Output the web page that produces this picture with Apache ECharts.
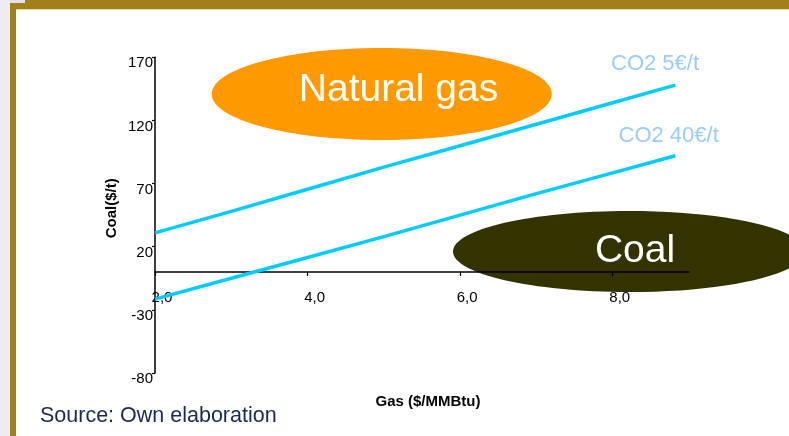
<!DOCTYPE html>
<html>
<head>
<meta charset="utf-8">
<script src="https://cdn.jsdelivr.net/npm/echarts@6/dist/echarts.min.js"></script>
<style>
  html, body { margin:0; padding:0; width:789px; height:436px; overflow:hidden; background:#EDEDF1; }
  #frame { position:absolute; left:10px; top:0; width:779px; height:436px; background:#A17F1B; }
  #notch { position:absolute; left:10px; top:0; width:15px; height:3px; background:#E4E2E4; }
  #inner { position:absolute; left:16px; top:9px; width:773px; height:427px; background:#FFFFFF; border-top:1px solid #E6D6A2; box-sizing:border-box; }
  #chart { position:absolute; left:0; top:0; width:789px; height:436px; }
</style>
</head>
<body>
<div id="frame"></div>
<div id="notch"></div>
<div id="inner"></div>
<div id="chart"></div>
<script>
// ---- data ----
const gasPrices = [2, 3, 4, 5, 6, 7, 8, 8.82];
const co2Low  = [31, 48, 65.5, 83, 100, 117, 134, 148];      // CO2 5€/t
const co2High = [-21.5, -5, 11.5, 28, 45, 62, 78.5, 92];      // CO2 40€/t
const seriesNames = ['CO2 5€/t', 'CO2 40€/t'];
const xTickValues = [2, 4, 6, 8];
const yMin = -80, yMax = 170, yStep = 50;
const xMin = 2, xMax = 9;
const regionLabels = ['Natural gas', 'Coal'];
const xAxisTitle = 'Gas ($/MMBtu)';
const yAxisTitle = 'Coal($/t)';
const sourceText = 'Source: Own elaboration';

const FONT = "'Liberation Sans', Arial, sans-serif";
const chart = echarts.init(document.getElementById('chart'), null, { renderer: 'canvas' });

const gridTop = 57.3, gridBottom = 63;
const plotH = 436 - gridTop - gridBottom;
// place the x axis (line, ticks, labels) at y = 0
const zeroOffset = -(plotH * (0 - yMin) / (yMax - yMin));

const option = {
  backgroundColor: 'transparent',
  animation: false,
  grid: { left: 155, right: 100, top: gridTop, bottom: gridBottom, containLabel: false },
  xAxis: {
    type: 'value', min: xMin, max: xMax, interval: 2, z: 5,
    offset: zeroOffset,
    axisLine: { show: true, onZero: false, lineStyle: { color: '#000', width: 1.5 } },
    axisTick: { show: true, length: 4, customValues: xTickValues, lineStyle: { color: '#000', width: 1.2 } },
    axisLabel: {
      customValues: xTickValues, margin: 18, fontSize: 15, color: '#000', fontFamily: FONT,
      padding: [0, 0, 0, 14],
      formatter: v => v.toFixed(1).replace('.', ',')
    },
    splitLine: { show: false }
  },
  yAxis: {
    type: 'value', min: yMin, max: yMax, interval: yStep, z: 5,
    axisLine: { show: true, lineStyle: { color: '#000', width: 1.5 } },
    axisTick: { show: true, length: 3, lineStyle: { color: '#000', width: 1.2 } },
    axisLabel: { margin: 2, fontSize: 15, color: '#000', fontFamily: FONT, verticalAlign: 'top', lineHeight: 12 },
    splitLine: { show: false }
  },
  series: [
    {
      name: seriesNames[0], type: 'line', z: 6, symbol: 'none',
      lineStyle: { color: '#00CCFF', width: 3.5 },
      data: gasPrices.map((g, i) => [g, co2Low[i]])
    },
    {
      name: seriesNames[1], type: 'line', z: 6, symbol: 'none',
      lineStyle: { color: '#00CCFF', width: 3.5 },
      data: gasPrices.map((g, i) => [g, co2High[i]])
    }
  ],
  graphic: [
    { type: 'ellipse', z: 1, shape: { cx: 381.7, cy: 94, rx: 170, ry: 46 }, style: { fill: '#FF9900' } },
    { type: 'text', z: 2, style: { x: 398.5, y: 90.5, text: regionLabels[0], font: '39px ' + FONT, fill: '#FFFFFF', align: 'center', verticalAlign: 'middle' } },
    { type: 'ellipse', z: 1, shape: { cx: 629, cy: 251.5, rx: 176, ry: 40.5 }, style: { fill: '#333300' } },
    { type: 'text', z: 2, style: { x: 635, y: 251.7, text: regionLabels[1], font: '39px ' + FONT, fill: '#FFFFFF', align: 'center', verticalAlign: 'middle' } },
    { type: 'text', z: 2, style: { x: 611, y: 64.4, text: seriesNames[0], font: '22px ' + FONT, fill: '#99CCFF', align: 'left', verticalAlign: 'middle' } },
    { type: 'text', z: 2, style: { x: 618.5, y: 136.1, text: seriesNames[1], font: '22px ' + FONT, fill: '#99CCFF', align: 'left', verticalAlign: 'middle' } },
    { type: 'text', z: 2, style: { x: 428, y: 402, text: xAxisTitle, font: 'bold 15px ' + FONT, fill: '#000', align: 'center', verticalAlign: 'middle' } },
    { type: 'text', z: 2, x: 112, y: 208.3, rotation: Math.PI / 2, style: { x: 0, y: 0, text: yAxisTitle, font: 'bold 15px ' + FONT, fill: '#000', align: 'center', verticalAlign: 'middle' } },
    { type: 'text', z: 2, style: { x: 40, y: 416.5, text: sourceText, font: '21.5px ' + FONT, fill: '#1B2A55', align: 'left', verticalAlign: 'middle' } }
  ]
};
chart.setOption(option);
</script>
</body>
</html>
